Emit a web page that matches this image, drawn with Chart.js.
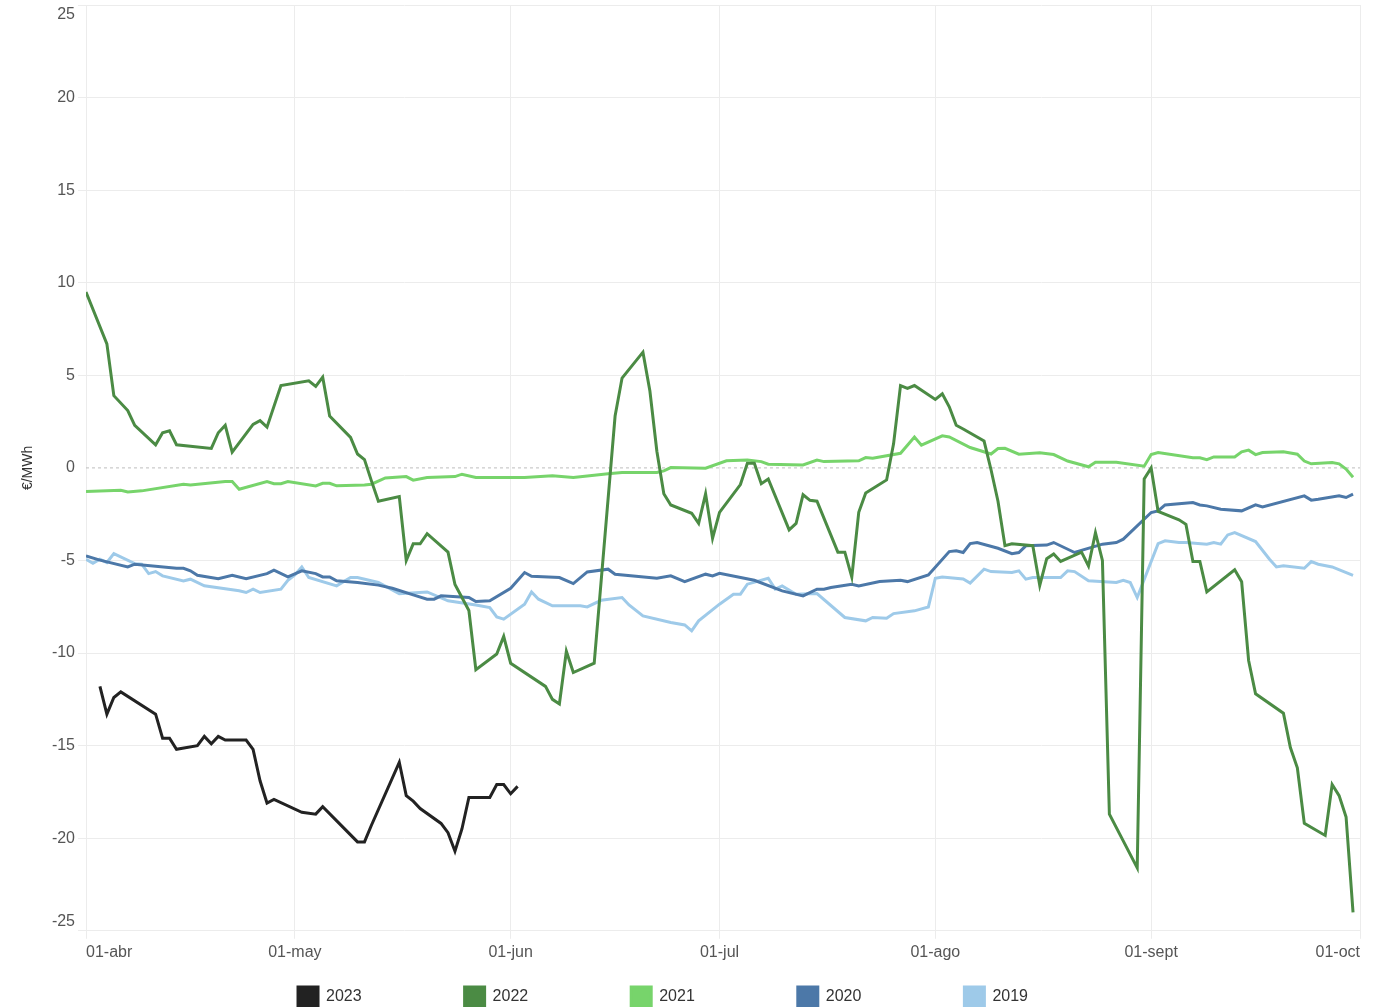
<!DOCTYPE html>
<html>
<head>
<meta charset="utf-8">
<script src="https://cdn.jsdelivr.net/npm/chart.js@4.4.1/dist/chart.umd.min.js"></script>
<style>
  html, body { margin: 0; padding: 0; background: #fff; overflow: hidden; }
  #wrap { width: 1378px; height: 1007px; }
</style>
</head>
<body>
<div id="wrap"><canvas id="chart"></canvas></div>
<script>
// x = days since 1 April
const monthDays = [0, 30, 61, 91, 122, 153, 183];
const monthLabels = ['01-abr', '01-may', '01-jun', '01-jul', '01-ago', '01-sept', '01-oct'];
const yTicks = [-25, -20, -15, -10, -5, 0, 5, 10, 15, 20, 25];
const years = ['2023', '2022', '2021', '2020', '2019'];
const colors = ['#222222', '#4b8b44', '#77d46b', '#4c78a8', '#9ecae9'];

const days2023 = [2, 3, 4, 5, 10, 11, 12, 13, 16, 17, 18, 19, 20, 23, 24, 25, 26, 27, 31, 33, 34, 39, 40, 41, 45, 46, 47, 48, 51, 52, 53, 54, 55, 58, 59, 60, 61, 62];
const vals2023 = [-11.8, -13.3, -12.4, -12.1, -13.3, -14.6, -14.6, -15.2, -15.0, -14.5, -14.9, -14.5, -14.7, -14.7, -15.2, -16.9, -18.1, -17.9, -18.6, -18.7, -18.3, -20.2, -20.2, -19.3, -15.9, -17.7, -18.0, -18.4, -19.2, -19.7, -20.7, -19.5, -17.8, -17.8, -17.1, -17.1, -17.6, -17.2];

const days2022 = [0, 3, 4, 6, 7, 10, 11, 12, 13, 18, 19, 20, 21, 24, 25, 26, 28, 32, 33, 34, 35, 38, 39, 40, 41, 42, 45, 46, 47, 48, 49, 52, 53, 55, 56, 59, 60, 61, 66, 67, 68, 69, 70, 73, 76, 77, 80, 81, 82, 83, 84, 87, 88, 89, 90, 91, 94, 95, 96, 97, 98, 101, 102, 103, 104, 105, 108, 109, 110, 111, 112, 115, 116, 117, 118, 119, 122, 123, 124, 125, 126, 129, 130, 131, 132, 133, 136, 137, 138, 139, 140, 143, 144, 145, 146, 147, 151, 152, 153, 154, 157, 158, 159, 160, 161, 165, 166, 167, 168, 172, 173, 174, 175, 178, 179, 180, 181, 182];
const vals2022 = [9.5, 6.7, 3.9, 3.1, 2.3, 1.25, 1.9, 2.0, 1.25, 1.05, 1.9, 2.3, 0.85, 2.35, 2.55, 2.2, 4.45, 4.7, 4.4, 4.9, 2.8, 1.65, 0.75, 0.45, -0.7, -1.8, -1.55, -5.0, -4.1, -4.1, -3.55, -4.55, -6.3, -7.7, -10.9, -10.05, -9.1, -10.55, -11.8, -12.5, -12.75, -9.9, -11.05, -10.55, 2.8, 4.85, 6.25, 4.15, 0.9, -1.4, -2.0, -2.45, -3.0, -1.4, -3.8, -2.4, -0.9, 0.25, 0.25, -0.85, -0.6, -3.35, -3.0, -1.45, -1.75, -1.8, -4.55, -4.55, -5.9, -2.4, -1.35, -0.65, 1.3, 4.45, 4.3, 4.45, 3.7, 4.0, 3.3, 2.3, 2.1, 1.45, -0.1, -1.8, -4.2, -4.1, -4.2, -6.35, -4.9, -4.65, -5.05, -4.55, -5.3, -3.5, -5.0, -18.7, -21.6, -0.6, 0.0, -2.35, -2.8, -3.05, -5.05, -5.05, -6.7, -5.5, -6.15, -10.4, -12.2, -13.25, -15.1, -16.2, -19.2, -19.85, -17.1, -17.7, -18.85, -24.0];

const days2021 = [0, 5, 6, 8, 14, 15, 20, 21, 22, 26, 27, 28, 29, 33, 34, 35, 36, 40, 41, 43, 46, 47, 49, 53, 54, 56, 63, 67, 70, 75, 77, 82, 83, 84, 89, 92, 95, 97, 98, 103, 105, 106, 111, 112, 113, 117, 119, 120, 123, 124, 127, 130, 131, 132, 134, 137, 139, 141, 144, 145, 148, 152, 153, 154, 159, 160, 161, 162, 165, 166, 167, 168, 169, 172, 174, 175, 176, 179, 180, 181, 182];
const vals2021 = [-1.28, -1.21, -1.3, -1.24, -0.88, -0.92, -0.74, -0.74, -1.15, -0.74, -0.85, -0.85, -0.74, -0.97, -0.83, -0.83, -0.97, -0.92, -0.88, -0.54, -0.47, -0.66, -0.52, -0.47, -0.34, -0.52, -0.52, -0.43, -0.52, -0.31, -0.25, -0.25, -0.16, 0.02, -0.02, 0.38, 0.42, 0.34, 0.2, 0.16, 0.42, 0.34, 0.38, 0.56, 0.52, 0.79, 1.67, 1.23, 1.73, 1.67, 1.1, 0.75, 1.05, 1.06, 0.74, 0.82, 0.72, 0.37, 0.06, 0.31, 0.31, 0.09, 0.72, 0.83, 0.55, 0.55, 0.44, 0.59, 0.59, 0.87, 0.96, 0.72, 0.83, 0.87, 0.74, 0.37, 0.22, 0.29, 0.22, -0.06, -0.5];

const days2020 = [0, 2, 6, 7, 13, 14, 15, 16, 19, 21, 23, 26, 27, 29, 31, 33, 34, 35, 36, 39, 42, 44, 47, 49, 50, 51, 55, 56, 58, 61, 63, 64, 68, 70, 72, 75, 76, 82, 84, 86, 89, 90, 91, 96, 100, 103, 105, 106, 107, 110, 111, 114, 117, 118, 121, 124, 125, 126, 127, 128, 131, 133, 134, 135, 138, 139, 142, 146, 148, 149, 153, 154, 155, 159, 160, 161, 163, 166, 168, 169, 175, 176, 177, 180, 181, 182];
const vals2020 = [-4.75, -4.98, -5.35, -5.2, -5.42, -5.42, -5.56, -5.8, -5.98, -5.8, -5.98, -5.71, -5.52, -5.89, -5.56, -5.71, -5.89, -5.89, -6.1, -6.19, -6.33, -6.5, -6.86, -7.09, -7.09, -6.91, -7.0, -7.22, -7.18, -6.5, -5.65, -5.85, -5.92, -6.25, -5.62, -5.47, -5.74, -5.96, -5.83, -6.14, -5.74, -5.83, -5.69, -6.07, -6.64, -6.91, -6.55, -6.55, -6.46, -6.28, -6.37, -6.14, -6.07, -6.14, -5.78, -4.52, -4.48, -4.57, -4.09, -4.03, -4.34, -4.63, -4.57, -4.21, -4.17, -4.03, -4.57, -4.12, -4.03, -3.85, -2.41, -2.32, -2.0, -1.87, -2.0, -2.05, -2.23, -2.32, -2.0, -2.11, -1.51, -1.74, -1.69, -1.51, -1.6, -1.42];

const days2019 = [0, 1, 2, 3, 4, 7, 8, 9, 10, 11, 14, 15, 17, 22, 23, 24, 25, 28, 29, 30, 31, 32, 36, 38, 39, 42, 45, 49, 52, 56, 58, 59, 60, 63, 64, 65, 67, 71, 72, 74, 77, 78, 80, 84, 86, 87, 88, 91, 93, 94, 95, 98, 99, 100, 102, 105, 109, 112, 113, 115, 116, 119, 121, 122, 123, 126, 127, 129, 130, 133, 134, 135, 136, 140, 141, 142, 144, 148, 149, 150, 151, 154, 155, 157, 158, 161, 162, 163, 164, 165, 168, 170, 171, 172, 175, 176, 177, 179, 182];
const vals2019 = [-4.93, -5.15, -4.93, -5.11, -4.63, -5.17, -5.2, -5.71, -5.6, -5.83, -6.1, -6.01, -6.37, -6.64, -6.73, -6.55, -6.73, -6.55, -6.07, -5.78, -5.35, -5.92, -6.37, -5.92, -5.92, -6.19, -6.79, -6.7, -7.18, -7.4, -7.54, -8.05, -8.17, -7.36, -6.7, -7.09, -7.45, -7.45, -7.51, -7.15, -7.0, -7.4, -7.99, -8.35, -8.48, -8.8, -8.26, -7.36, -6.82, -6.82, -6.28, -5.96, -6.55, -6.37, -6.82, -6.79, -8.08, -8.26, -8.08, -8.12, -7.87, -7.72, -7.51, -5.96, -5.89, -6.0, -6.22, -5.47, -5.6, -5.65, -5.56, -6.01, -5.92, -5.92, -5.56, -5.6, -6.1, -6.19, -6.07, -6.19, -7.0, -4.09, -3.94, -4.03, -4.03, -4.12, -4.03, -4.12, -3.62, -3.49, -3.98, -4.93, -5.35, -5.29, -5.42, -5.06, -5.2, -5.35, -5.8];

const seriesDays = [days2023, days2022, days2021, days2020, days2019];
const seriesVals = [vals2023, vals2022, vals2021, vals2020, vals2019];

const font = "'Liberation Sans', Arial, sans-serif";
const gridColor = '#ececec';

const datasets = years.map((y, i) => ({
  label: y,
  data: seriesDays[i].map((d, j) => ({ x: d, y: seriesVals[i][j] })),
  borderColor: colors[i],
  backgroundColor: colors[i],
  borderWidth: 3,
  pointRadius: 0,
  pointHoverRadius: 0,
  tension: 0,
  fill: false
}));

// dashed line at zero
const zeroLine = {
  id: 'zeroLine',
  beforeDatasetsDraw(chart) {
    const { ctx, chartArea } = chart;
    const y = chart.scales.y.getPixelForValue(0);
    ctx.save();
    ctx.strokeStyle = '#bdbdbd';
    ctx.lineWidth = 1;
    ctx.setLineDash([3, 3]);
    ctx.beginPath();
    ctx.moveTo(chartArea.left, y);
    ctx.lineTo(chartArea.right, y);
    ctx.stroke();
    ctx.restore();
  }
};

// the wide item padding would also push the legend row down, so place it by hand
const legendPlace = {
  id: 'legendPlace',
  afterLayout(chart) {
    const lg = chart.legend;
    const pad = lg.options.labels.padding;
    lg.left -= 17;
    lg.right -= 17;
    lg.top = 987 - pad;
    lg.bottom = 1040;
  }
};

new Chart(document.getElementById('chart'), {
  type: 'line',
  data: { datasets },
  options: {
    responsive: true,
    maintainAspectRatio: false,
    animation: false,
    layout: { padding: { top: 5, right: 18, left: 0, bottom: 0 } },
    plugins: {
      legend: {
        position: 'bottom',
        maxHeight: 41,
        labels: {
          boxWidth: 20,
          boxHeight: 20,
          padding: 103,
          color: '#333',
          font: { family: font, size: 16 }
        }
      },
      tooltip: { enabled: false }
    },
    scales: {
      x: {
        type: 'linear',
        min: 0,
        max: 183,
        afterBuildTicks: scale => {
          scale.ticks = monthDays.map(v => ({ value: v }));
        },
        ticks: {
          align: 'inner',
          maxRotation: 0,
          autoSkip: false,
          padding: 4,
          color: '#555',
          font: { family: font, size: 16 },
          callback: (v) => monthLabels[monthDays.indexOf(v)]
        },
        grid: { color: gridColor, tickLength: 8 },
        border: { display: false }
      },
      y: {
        min: -25,
        max: 25,
        afterBuildTicks: scale => {
          scale.ticks = yTicks.map(v => ({ value: v }));
        },
        afterFit: scale => {
          scale.width = 86;
          scale.paddingTop = 0;
          scale.paddingBottom = 0;
        },
        ticks: {
          padding: 3,
          color: '#555',
          font: { family: font, size: 16 },
          // top and bottom labels sit inside the plot like the original
          callback: v => v === 25 ? ['', '25'] : v === -25 ? ['-25', ''] : String(v)
        },
        grid: {
          color: c => (c.tick && c.tick.value === 0) ? 'rgba(0,0,0,0)' : gridColor,
          tickLength: 8
        },
        border: { display: false },
        title: {
          display: true,
          text: '€/MWh',
          color: '#333',
          font: { family: font, size: 14 },
          padding: { top: 20, bottom: 0 }
        }
      }
    }
  },
  plugins: [zeroLine, legendPlace]
});
</script>
</body>
</html>
